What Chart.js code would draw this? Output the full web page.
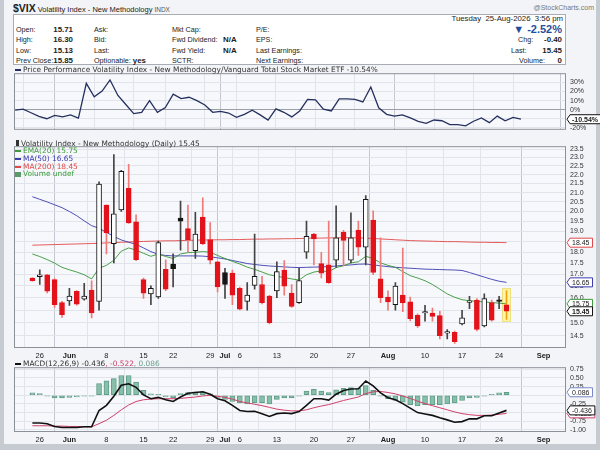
<!DOCTYPE html>
<html>
<head>
<meta charset="utf-8">
<title>$VIX Volatility Index</title>
<script src="https://cdn.jsdelivr.net/npm/chart.js@4.4.1/dist/chart.umd.min.js"></script>
<style>
  body { margin: 0; width: 600px; height: 450px; overflow: hidden; background: #c6cad1; position: relative; font-family: "Liberation Sans", Arial, sans-serif; color: #222; }
  #frame { position: absolute; left: 4px; top: 0; width: 592px; height: 444px; background: #f3f4f7; }
  #info { position: absolute; left: 13px; top: 14px; width: 553px; height: 51px; background: #fff; border: 1px solid #a8acb4; box-sizing: border-box; }
  .t { position: absolute; font-size: 7.2px; line-height: 10px; white-space: nowrap; }
  .b { font-weight: bold; font-size: 7.9px; }
  canvas { position: absolute; left: 0; }
  .leg { position: absolute; font-family: "DejaVu Sans", sans-serif; font-size: 7.4px; white-space: nowrap; color: #333; }
  .dash { display: inline-block; width: 6px; height: 2px; margin-right: 2px; vertical-align: middle; }
</style>
</head>
<body>
<div id="frame"></div>
<div id="info"></div>

<!-- title row -->
<div class="t" style="left:13px;top:2px;line-height:12px"><b style="font-size:10.5px">$VIX</b> <span style="font-size:7.5px">Volatility Index - New Methodology</span> <span style="font-size:6.5px;color:#555">INDX</span></div>
<div class="t" style="right:6px;top:3px;font-size:7px;color:#777">@StockCharts.com</div>
<div class="t" style="right:37px;top:14px;font-size:7.8px">Tuesday&nbsp; 25-Aug-2026&nbsp; 3:56 pm</div>

<!-- quote table -->
<div class="t" style="left:16px;top:24.5px">Open:</div>
<div class="t" style="left:16px;top:35px">High:</div>
<div class="t" style="left:16px;top:45.5px">Low:</div>
<div class="t" style="left:16px;top:55.5px">Prev Close:</div>
<div class="t b" style="right:527px;top:24.5px">15.71</div>
<div class="t b" style="right:527px;top:35px">16.30</div>
<div class="t b" style="right:527px;top:45.5px">15.13</div>
<div class="t b" style="right:527px;top:55.5px">15.85</div>

<div class="t" style="left:94px;top:24.5px">Ask:</div>
<div class="t" style="left:94px;top:35px">Bid:</div>
<div class="t" style="left:94px;top:45.5px">Last:</div>
<div class="t" style="left:94px;top:55.5px">Optionable: <b style="font-size:7.9px">yes</b></div>

<div class="t" style="left:172px;top:24.5px">Mkt Cap:</div>
<div class="t" style="left:172px;top:35px">Fwd Dividend:</div>
<div class="t" style="left:172px;top:45.5px">Fwd Yield:</div>
<div class="t" style="left:172px;top:55.5px">SCTR:</div>
<div class="t b" style="left:223px;top:35px">N/A</div>
<div class="t b" style="left:223px;top:45.5px">N/A</div>

<div class="t" style="left:256px;top:24.5px">P/E:</div>
<div class="t" style="left:256px;top:35px">EPS:</div>
<div class="t" style="left:256px;top:45.5px">Last Earnings:</div>
<div class="t" style="left:256px;top:55.5px">Next Earnings:</div>

<div class="t" style="right:38px;top:23px;font-size:11px;line-height:12px;font-weight:bold;color:#1f4f9a">&#9660; -2.52%</div>
<div class="t" style="left:518px;top:35px">Chg:</div>
<div class="t" style="left:511px;top:45.5px">Last:</div>
<div class="t" style="left:519px;top:55.5px">Volume:</div>
<div class="t b" style="right:38px;top:35px">-0.40</div>
<div class="t b" style="right:38px;top:45.5px">15.45</div>
<div class="t b" style="right:38px;top:55.5px">0</div>

<canvas id="perfChart" width="600" height="73" style="top:65px"></canvas>
<canvas id="priceChart" width="600" height="223" style="top:138px"></canvas>
<canvas id="macdChart" width="600" height="86" style="top:359px"></canvas>

<!-- panel legends -->
<div class="leg" style="left:15px;top:66px;line-height:8px"><span class="dash" style="background:#25305e"></span>Price Performance Volatility Index - New Methodology/Vanguard Total Stock Market ETF -10.54%</div>
<div class="leg" style="left:15px;top:139.5px;line-height:7.7px">
  <div><span style="display:inline-block;width:3px;height:6px;background:#333;margin:0 2px 0 1px;vertical-align:middle"></span>Volatility Index - New Methodology (Daily) 15.45</div>
  <div style="color:#3d9b3d"><span class="dash" style="background:#3d9b3d"></span>EMA(20) 15.75</div>
  <div style="color:#3b3bb0"><span class="dash" style="background:#3b3bb0"></span>MA(50) 16.65</div>
  <div style="color:#e04848"><span class="dash" style="background:#e04848"></span>MA(200) 18.45</div>
  <div style="color:#3d9b3d"><span style="display:inline-block;width:6px;height:5px;background:#5a9a6a;margin-right:2px;vertical-align:middle"></span>Volume undef</div>
</div>
<div class="leg" style="left:15px;top:360px;line-height:8px"><span class="dash" style="background:#111"></span>MACD(12,26,9) -0.436<span style="color:#d0406a">, -0.522</span><span style="color:#6aa08c">, 0.086</span></div>

<script>
// x positions are trading days: 0 = 22 May, 64 = 25 Aug 2026
const tickIdx = [1, 5, 10, 15, 19, 24, 26, 28, 33, 38, 43, 48, 53, 58, 63, 69];
const tickLabels = ["26", "Jun", "8", "15", "22", "29", "Jul", "6", "13", "20", "27", "Aug", "10", "17", "24", "Sep"];
const monthLabels = ["Jun", "Jul", "Aug", "Sep"];

const priceTicks = [14.5, 15, 15.5, 16, 16.5, 17, 17.5, 18, 18.5, 19, 19.5, 20, 20.5, 21, 21.5, 22, 22.5, 23, 23.5];
const perfTicks = [-20, -10, 0, 10, 20, 30];
const macdTicks = [-1, -0.75, -0.5, -0.25, 0, 0.25, 0.5, 0.75];

const opens = [16.84, 16.90, 16.98, 16.77, 15.80, 15.87, 16.27, 15.94, 16.32, 15.85,
  20.33, 18.40, 20.08, 21.24, 19.47, 16.77, 16.16, 16.03, 17.22, 17.46,
  19.66, 19.13, 18.07, 19.71, 18.60, 17.56, 17.08, 17.05, 16.40, 15.85,
  16.52, 16.56, 16.07, 16.29, 17.19, 16.19, 15.80, 18.00, 18.86, 17.48,
  17.42, 17.63, 18.95, 17.63, 19.06, 18.24, 19.56, 16.80, 16.03, 15.72,
  16.11, 15.83, 15.29, 15.38, 15.38, 15.28, 14.60, 14.63, 14.95, 15.81,
  15.90, 14.88, 15.80, 15.90, 15.71];
const highs = [16.86, 17.20, 17.00, 16.80, 15.85, 16.40, 16.30, 16.61, 16.72, 21.60,
  20.35, 23.17, 22.25, 22.60, 19.83, 16.84, 16.50, 18.53, 17.65, 17.92,
  20.55, 20.33, 19.96, 20.72, 19.44, 17.58, 17.27, 17.19, 16.45, 16.64,
  18.86, 16.91, 16.10, 17.56, 17.61, 16.56, 17.27, 19.51, 18.90, 18.00,
  19.51, 20.29, 19.05, 19.93, 19.51, 20.84, 20.04, 18.68, 16.29, 16.64,
  18.19, 16.03, 15.35, 15.69, 15.58, 15.45, 14.74, 14.68, 15.49, 16.06,
  15.97, 16.16, 15.90, 16.06, 16.30];
const lows = [16.70, 16.56, 16.20, 15.60, 15.21, 15.69, 15.70, 15.90, 15.19, 15.49,
  17.92, 17.51, 20.00, 19.39, 17.61, 15.97, 15.72, 15.97, 16.30, 16.45,
  18.10, 18.00, 17.71, 18.35, 17.46, 16.24, 15.97, 15.72, 15.50, 15.49,
  16.36, 15.75, 14.95, 16.00, 16.11, 15.60, 15.77, 17.71, 17.42, 16.84,
  16.60, 17.31, 17.38, 17.51, 17.85, 17.42, 16.98, 15.80, 15.49, 15.49,
  15.43, 15.07, 14.82, 15.06, 15.06, 14.38, 14.38, 14.22, 14.91, 15.55,
  14.68, 14.84, 15.06, 15.55, 15.13];
const closes = [16.72, 16.98, 16.27, 15.72, 15.32, 16.07, 15.74, 16.07, 15.38, 21.47,
  18.92, 19.88, 22.19, 19.42, 17.66, 16.19, 16.40, 18.45, 16.36, 17.25,
  19.51, 18.60, 18.86, 18.40, 17.63, 16.45, 16.56, 16.11, 15.53, 16.11,
  16.91, 15.80, 15.00, 17.12, 16.49, 15.65, 16.73, 18.76, 18.63, 17.05,
  16.64, 18.68, 18.56, 18.68, 18.24, 20.64, 17.08, 16.00, 15.83, 16.49,
  15.79, 15.16, 14.88, 15.42, 15.25, 14.51, 14.65, 14.28, 15.19, 15.85,
  14.74, 15.97, 15.10, 15.85, 15.45];

const ema20 = [17.92, 17.80, 17.66, 17.50, 17.31, 17.20, 17.10, 16.98, 16.80, 17.27,
  17.40, 17.63, 18.05, 18.20, 18.10, 17.95, 17.81, 17.92, 17.80, 17.71,
  17.92, 17.98, 18.00, 18.03, 18.00, 17.85, 17.71, 17.58, 17.46, 17.32,
  17.22, 17.10, 16.98, 16.91, 16.86, 16.80, 16.75, 16.98, 17.10, 17.15,
  17.12, 17.30, 17.38, 17.51, 17.56, 17.81, 17.71, 17.51, 17.40, 17.31,
  17.12, 16.94, 16.84, 16.72, 16.56, 16.36, 16.16, 16.02, 15.92, 15.88,
  15.85, 15.83, 15.80, 15.78, 15.75];
const ma50 = [20.78, 20.64, 20.50, 20.35, 20.20, 20.00, 19.78, 19.52, 19.28, 19.15,
  18.95, 18.75, 18.58, 18.47, 18.37, 18.20, 18.03, 17.90, 17.85, 17.83,
  17.83, 17.83, 17.83, 17.82, 17.79, 17.74, 17.69, 17.62, 17.55, 17.48,
  17.44, 17.40, 17.37, 17.35, 17.33, 17.31, 17.30, 17.31, 17.32, 17.33,
  17.34, 17.37, 17.40, 17.42, 17.45, 17.46, 17.42, 17.38, 17.34, 17.31,
  17.29, 17.27, 17.25, 17.23, 17.22, 17.21, 17.20, 17.19, 17.17, 17.08,
  16.98, 16.88, 16.78, 16.70, 16.65];
const ma200 = [18.33, 18.34, 18.35, 18.36, 18.37, 18.38, 18.39, 18.40, 18.41, 18.42,
  18.44, 18.45, 18.47, 18.48, 18.50, 18.51, 18.52, 18.53, 18.54, 18.54,
  18.55, 18.56, 18.57, 18.58, 18.58, 18.59, 18.59, 18.60, 18.60, 18.61,
  18.62, 18.62, 18.63, 18.63, 18.64, 18.64, 18.65, 18.66, 18.67, 18.67,
  18.68, 18.68, 18.69, 18.69, 18.68, 18.67, 18.65, 18.63, 18.61, 18.59,
  18.57, 18.55, 18.54, 18.53, 18.52, 18.51, 18.50, 18.50, 18.49, 18.48,
  18.47, 18.47, 18.46, 18.46, 18.45];

// Price performance vs VTI, percent
const perf = [-0.6, 0.6, -3.4, -7.4, -10, -6.3, -8, -5.7, -9.4, 29,
  14.2, 20.5, 32.8, 15.7, 5.7, -4.3, -2.9, 10, -2.9, 2.3,
  17.1, 12.2, 13.7, 10, 5.1, -2.9, -2, -3.7, -8.5, -5.1,
  -0.6, -5.7, -11.4, 0.9, -2.9, -8, -1.4, 11.4, 10.9, 0.6,
  -1.4, 12, 12, 11.4, 8.5, 25, 2, -5.1, -7.1, -5.7,
  -9.1, -12.8, -15.1, -11.4, -12.2, -16.5, -16.5, -17.9, -12.8, -9.1,
  -14.3, -7.1, -12.2, -8.5, -10.54];

// MACD(12,26,9)
const macdLine = [-0.80, -0.80, -0.82, -0.90, -0.93, -0.93, -0.93, -0.91, -0.91, -0.44,
  -0.29, -0.03, 0.29, 0.33, 0.23, 0.01, -0.10, -0.06, -0.13, -0.18,
  -0.05, 0.06, 0.08, 0.10, 0.03, -0.10, -0.16, -0.29, -0.44, -0.47,
  -0.46, -0.53, -0.61, -0.53, -0.51, -0.53, -0.47, -0.29, -0.10, -0.10,
  -0.14, 0.03, 0.14, 0.18, 0.19, 0.41, 0.27, 0.07, -0.07, -0.13,
  -0.24, -0.37, -0.50, -0.54, -0.58, -0.65, -0.71, -0.78, -0.76, -0.68,
  -0.68, -0.59, -0.59, -0.51, -0.436];
const signalLine = [-0.88, -0.88, -0.88, -0.89, -0.89, -0.90, -0.90, -0.91, -0.91, -0.82,
  -0.72, -0.58, -0.42, -0.28, -0.18, -0.13, -0.11, -0.10, -0.10, -0.10,
  -0.09, -0.07, -0.05, -0.02, 0.00, -0.03, -0.06, -0.11, -0.18, -0.22,
  -0.26, -0.30, -0.35, -0.40, -0.43, -0.45, -0.45, -0.42, -0.36, -0.31,
  -0.27, -0.21, -0.15, -0.10, -0.05, 0.05, 0.10, 0.11, 0.08, 0.04,
  -0.02, -0.09, -0.17, -0.24, -0.30, -0.36, -0.42, -0.48, -0.53, -0.56,
  -0.58, -0.58, -0.57, -0.55, -0.522];
const histogram = [0.07, 0.05, -0.01, -0.08, -0.08, -0.06, -0.05, -0.01, -0.01, 0.34,
  0.42, 0.48, 0.57, 0.57, 0.38, 0.14, 0.04, 0.03, -0.05, -0.07,
  0.05, 0.08, 0.10, 0.10, 0.04, -0.06, -0.12, -0.18, -0.22, -0.25,
  -0.21, -0.21, -0.25, -0.12, -0.08, -0.08, -0.02, 0.12, 0.17, 0.12,
  0.08, 0.16, 0.20, 0.22, 0.20, 0.28, 0.14, -0.02, -0.10, -0.15,
  -0.20, -0.27, -0.31, -0.27, -0.27, -0.27, -0.25, -0.22, -0.15, -0.08,
  -0.06, -0.01, 0.01, 0.07, 0.086];

const days = closes.map((c, i) => i);
const last = closes.length - 1;

const RED = "#e3131b";
const BLACK = "#151515";
const GRID = "#e1e4ea";

function isMonth(ctx) {
  return monthLabels.includes(tickLabels[ctx.index]);
}

function xAxis(showLabels) {
  return {
    type: "linear",
    min: -0.15,
    max: 69.7,
    afterBuildTicks: (s) => { s.ticks = tickIdx.map(v => ({ value: v })); },
    afterFit: (s) => { s.height = showLabels ? 13 : 0; },
    border: { display: false },
    grid: { color: (ctx) => isMonth(ctx) ? "#c3c7cf" : GRID, drawTicks: false },
    ticks: {
      display: showLabels,
      autoSkip: false,
      maxRotation: 0,
      padding: 3,
      color: "#222",
      font: (ctx) => ({ family: "Liberation Sans", size: 7.5, weight: isMonth(ctx) ? "bold" : "normal" }),
      callback: (v, i) => tickLabels[i]
    }
  };
}

// right-hand value axis, every tick labelled
function yAxis(type, min, max, tickList, format, gridColor) {
  return {
    type: type,
    min: min,
    max: max,
    position: "right",
    afterBuildTicks: (s) => { s.ticks = tickList.map(v => ({ value: v })); },
    afterFit: (s) => { s.width = 34; },
    border: { display: false },
    grid: { color: gridColor || GRID, drawTicks: false },
    ticks: {
      autoSkip: false,
      padding: 4,
      color: "#333",
      font: { family: "Liberation Sans", size: 7 },
      callback: format
    }
  };
}

// plot background and frame
const panelFrame = {
  id: "panelFrame",
  beforeDraw(chart) {
    const { ctx, chartArea: a } = chart;
    ctx.save();
    ctx.fillStyle = "#f7f8fb";
    ctx.fillRect(a.left, a.top, a.width, a.height);
    ctx.restore();
  },
  afterDatasetsDraw(chart) {
    const { ctx, chartArea: a } = chart;
    ctx.save();
    ctx.strokeStyle = "#8c9098";
    ctx.lineWidth = 1;
    ctx.strokeRect(a.left + 0.5, a.top + 0.5, a.width - 1, a.height - 1);
    ctx.restore();
  }
};

function drawTag(ctx, x, y, text, color, bold) {
  ctx.save();
  ctx.font = (bold ? "bold " : "") + "7px Liberation Sans";
  const w = ctx.measureText(text).width + 5;
  ctx.beginPath();
  ctx.moveTo(x + 1, y);
  ctx.lineTo(x + 4, y - 4.5);
  ctx.lineTo(x + 4 + w, y - 4.5);
  ctx.lineTo(x + 4 + w, y + 4.5);
  ctx.lineTo(x + 4, y + 4.5);
  ctx.closePath();
  ctx.fillStyle = "#fff";
  ctx.fill();
  ctx.strokeStyle = color;
  ctx.lineWidth = 1;
  ctx.stroke();
  ctx.fillStyle = "#222";
  ctx.textBaseline = "middle";
  ctx.fillText(text, x + 6, y + 0.5);
  ctx.restore();
}

document.addEventListener("DOMContentLoaded", function () {
  const common = {
    animation: false,
    responsive: false,
    events: [],
    layout: { padding: { left: 14, right: 0, top: 0, bottom: 0 } },
    plugins: { legend: { display: false }, tooltip: { enabled: false } }
  };

  // Price Performance Chart
  const perfCtx = document.getElementById("perfChart").getContext("2d");
  const perfChart = new Chart(perfCtx, {
    type: "line",
    data: {
      datasets: [
        {
          data: days.map(i => ({ x: i, y: perf[i] })),
          borderColor: "#25305e",
          borderWidth: 1.3,
          pointRadius: 0,
          tension: 0
        }
      ]
    },
    options: Object.assign({}, common, {
      scales: {
        x: xAxis(false),
        y: yAxis("linear", -22.2, 40.2, perfTicks, (v) => v + "%",
          (ctx) => ctx.tick && ctx.tick.value === 0 ? "#9a9ea6" : GRID)
      }
    }),
    plugins: [panelFrame, {
      id: "perfTag",
      afterDraw(chart) {
        const y = chart.scales.y.getPixelForValue(perf[last]);
        drawTag(chart.ctx, chart.chartArea.right, y, perf[last].toFixed(2) + "%", "#111", true);
      }
    }]
  });

  // Candlestick Chart (bodies and wicks as floating bars)
  const candleRed = closes.map((c, i) => c < (i > 0 ? closes[i - 1] : opens[i]));
  const candleHollow = closes.map((c, i) => c > opens[i]);
  const priceCtx = document.getElementById("priceChart").getContext("2d");
  const priceChart = new Chart(priceCtx, {
    type: "bar",
    data: {
      datasets: [
        {
          type: "line",
          data: days.map(i => ({ x: i, y: ma200[i] })),
          borderColor: "rgba(224,64,64,0.85)",
          borderWidth: 1,
          pointRadius: 0,
          order: 5
        },
        {
          type: "line",
          data: days.map(i => ({ x: i, y: ma50[i] })),
          borderColor: "rgba(50,50,170,0.85)",
          borderWidth: 1,
          pointRadius: 0,
          order: 4
        },
        {
          type: "line",
          data: days.map(i => ({ x: i, y: ema20[i] })),
          borderColor: "rgba(55,150,55,0.9)",
          borderWidth: 1,
          pointRadius: 0,
          order: 3
        },
        {
          data: days.map(i => ({ x: i, y: [lows[i], highs[i]] })),
          backgroundColor: days.map(i => i === last ? "#f0a010" : (candleRed[i] ? "#f07a7a" : "#444")),
          barThickness: 1,
          grouped: false,
          order: 2
        },
        {
          data: days.map(i => ({ x: i, y: [opens[i], closes[i]] })),
          backgroundColor: days.map(i => candleHollow[i] ? "#ffffff" : (candleRed[i] ? RED : BLACK)),
          borderColor: days.map(i => candleRed[i] ? RED : BLACK),
          borderWidth: 1,
          borderSkipped: false,
          barThickness: 5,
          minBarLength: 1.5,
          grouped: false,
          order: 1
        }
      ]
    },
    options: Object.assign({}, common, {
      scales: {
        x: xAxis(true),
        y: yAxis("logarithmic", 14.05, 23.68, priceTicks, (v) => Number(v).toFixed(1))
      }
    }),
    plugins: [panelFrame, {
      id: "lastBar",
      beforeDatasetsDraw(chart) {
        const { ctx, scales } = chart;
        const x = scales.x.getPixelForValue(last);
        const top = scales.y.getPixelForValue(highs[last]) - 2;
        const bot = scales.y.getPixelForValue(lows[last]) + 2;
        ctx.save();
        ctx.fillStyle = "#fff6a6";
        ctx.strokeStyle = "#ebe07a";
        ctx.fillRect(x - 4, top, 8, bot - top);
        ctx.strokeRect(x - 4, top, 8, bot - top);
        ctx.restore();
      },
      afterDraw(chart) {
        const y = chart.scales.y;
        const r = chart.chartArea.right;
        drawTag(chart.ctx, r, y.getPixelForValue(ma200[last]), ma200[last].toFixed(2), "#e04848");
        drawTag(chart.ctx, r, y.getPixelForValue(ma50[last]), ma50[last].toFixed(2), "#3b3bb0");
        drawTag(chart.ctx, r, y.getPixelForValue(ema20[last]), ema20[last].toFixed(2), "#3d9b3d");
        drawTag(chart.ctx, r, y.getPixelForValue(closes[last]), closes[last].toFixed(2), "#111", true);
      }
    }]
  });

  // MACD Chart
  const macdCtx = document.getElementById("macdChart").getContext("2d");
  const macdChart = new Chart(macdCtx, {
    type: "bar",
    data: {
      datasets: [
        {
          type: "line",
          data: days.map(i => ({ x: i, y: macdLine[i] })),
          borderColor: "#111",
          borderWidth: 1.6,
          pointRadius: 0,
          order: 1
        },
        {
          type: "line",
          data: days.map(i => ({ x: i, y: signalLine[i] })),
          borderColor: "#d0406a",
          borderWidth: 1,
          pointRadius: 0,
          order: 2
        },
        {
          data: days.map(i => ({ x: i, y: histogram[i] })),
          backgroundColor: "#88bfaa",
          borderColor: "#5f9d87",
          borderWidth: 1,
          borderSkipped: false,
          barThickness: 5,
          minBarLength: 1,
          order: 3
        }
      ]
    },
    options: Object.assign({}, common, {
      scales: {
        x: xAxis(true),
        y: yAxis("linear", -1.06, 0.81, macdTicks, (v) => Number(v).toFixed(2))
      }
    }),
    plugins: [panelFrame, {
      id: "macdTags",
      afterDraw(chart) {
        const y = chart.scales.y;
        const r = chart.chartArea.right;
        drawTag(chart.ctx, r, y.getPixelForValue(histogram[last]), histogram[last].toFixed(3), "#7a88c8");
        drawTag(chart.ctx, r, y.getPixelForValue(signalLine[last]), signalLine[last].toFixed(3), "#d0406a");
        drawTag(chart.ctx, r, y.getPixelForValue(macdLine[last]), macdLine[last].toFixed(3), "#111");
      }
    }]
  });
});
</script>
</body>
</html>
